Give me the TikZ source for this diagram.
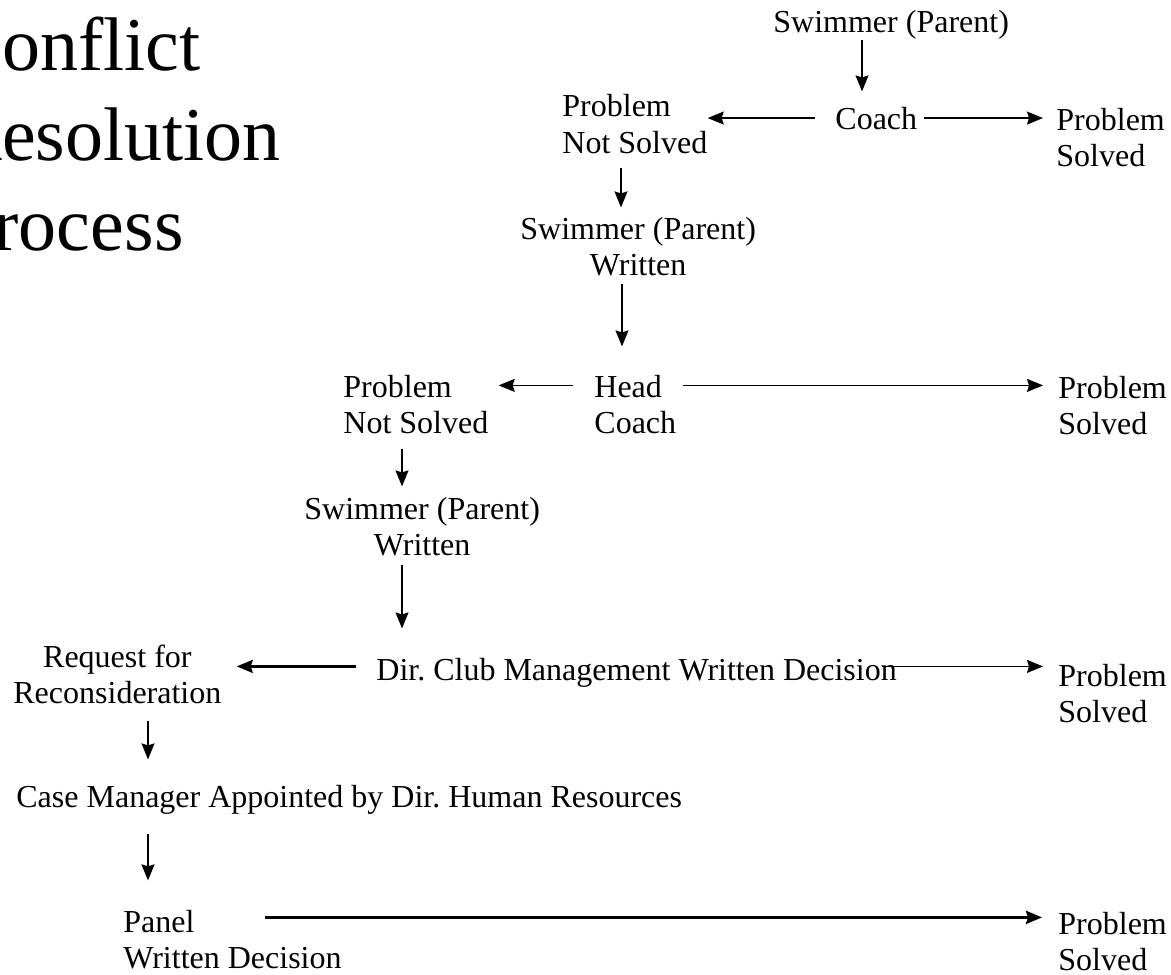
\documentclass[tikz,border=0pt]{standalone}
\usepackage{fontspec}
\setmainfont{Liberation Serif}
\usepackage{tikz}
\usetikzlibrary{arrows.meta}
\tikzstyle{txt}=[inner sep=0pt, anchor=base west, align=left, font=\fontsize{16}{18}\selectfont]
\tikzstyle{txtc}=[txt, align=center]
\tikzstyle{arrow}=[draw=black, line width=0.75pt, -{Stealth[length=8pt, width=6.5pt, inset=1pt]}]
\tikzstyle{arrowthick}=[arrow, line width=1.1pt]

\begin{document}
\begin{tikzpicture}[x=0.5pt, y=-0.5pt]
		   \useasboundingbox (0,0) rectangle (1171,974);
		   \clip (0,0) rectangle (1171,974);
		   \begin{scope}
			   \node (title) at (-49, 250)[inner sep=0pt, anchor=base west, align=left,
				   font=\fontsize{38}{45}\selectfont] {Conflict\\Resolution\\Process};
			   \node (sw1) at (773, 33)[txt] {Swimmer (Parent)};
			   \node (coach) at (835, 129)[txt] {Coach};
			   \node (ns1) at (562, 153)[txt] {Problem\\Not Solved};
			   \node (ps1) at (1056, 166)[txt] {Problem\\Solved};
			   \node (sw2) at (520, 275)[txtc] {Swimmer (Parent)\\Written};
			   \node (head) at (594, 433)[txt] {Head\\Coach};
			   \node (ns2) at (343, 433)[txt] {Problem\\Not Solved};
			   \node (ps2) at (1058, 434)[txt] {Problem\\Solved};
			   \node (sw3) at (304, 555)[txtc] {Swimmer (Parent)\\Written};
			   \node (dcm) at (376, 680)[txt] {Dir.\ Club Management Written Decision};
			   \node (req) at (13, 703)[txtc] {Request for\\Reconsideration};
			   \node (ps3) at (1058, 722)[txt] {Problem\\Solved};
			   \node (cm) at (16, 807)[txt] {Case Manager Appointed by Dir.\ Human Resources};
			   \node (panel) at (123, 968)[txt] {Panel\\Written Decision};
			   \node (ps4) at (1058, 970)[txt] {Problem\\Solved};
		   \end{scope}
		   \begin{scope}
			   % coach level
			   \path [arrow, shorten >=7.5pt] ([xshift=44.5pt]sw1.south west) -- ([xshift=44.5pt]sw1.south west |- coach.north);
			   \path [arrow, shorten <=10pt] (coach.west) -- (coach.west -| ns1.east);
			   \path [arrow, shorten <=3pt, shorten >=6.5pt] (coach.east) -- (coach.east -| ps1.west);
			   \path [arrow, shorten <=7pt, shorten >=4.5pt] ([xshift=29.5pt]ns1.south west) -- ([xshift=29.5pt]ns1.south west |- sw2.north);
			   % head coach level
			   \path [arrow, shorten <=4pt, shorten >=14pt] ([xshift=51pt]sw2.south west) -- ([xshift=51pt]sw2.south west |- head.north);
			   \path [arrow, shorten <=10.5pt, shorten >=5pt] ([yshift=-5.5pt]head.north west) -- ([yshift=-5.5pt]head.north west -| ns2.east);
			   \path [arrow, shorten <=3pt, shorten >=7.5pt] ([yshift=-5.5pt]head.north east) -- ([yshift=-5.5pt]head.north east -| ps2.west);
			   \path [arrow, shorten <=7.5pt, shorten >=5pt] ([xshift=29.5pt]ns2.south west) -- ([xshift=29.5pt]ns2.south west |- sw3.north);
			   % director level
			   \path [arrow, shorten <=4.5pt, shorten >=14.5pt] ([xshift=49pt]sw3.south west) -- ([xshift=49pt]sw3.south west |- dcm.north);
			   \path [arrowthick, shorten <=10pt, shorten >=7.5pt] ([yshift=-4.5pt]dcm.north west) -- ([yshift=-4.5pt]dcm.north west -| req.east);
			   \path [arrow, shorten <=-7.5pt, shorten >=7.5pt] ([yshift=-4.5pt]dcm.north east) -- ([yshift=-4.5pt]dcm.north east -| ps3.west);
			   \path [arrow, shorten <=8.5pt, shorten >=12.5pt] ([xshift=67.5pt]req.south west) -- ([xshift=67.5pt]req.south west |- cm.north);
			   \path [arrowthick, shorten <=10pt, shorten >=14.5pt] ([xshift=66pt]cm.south west) -- ([xshift=66pt]cm.south west |- panel.north);
			   \path [arrow, line width=1.5pt, shorten >=8pt] ([xshift=71pt, yshift=-4pt]panel.north west) -- ([yshift=-4pt]panel.north west -| ps4.west);
		   \end{scope}
	   \end{tikzpicture}
\end{document}
